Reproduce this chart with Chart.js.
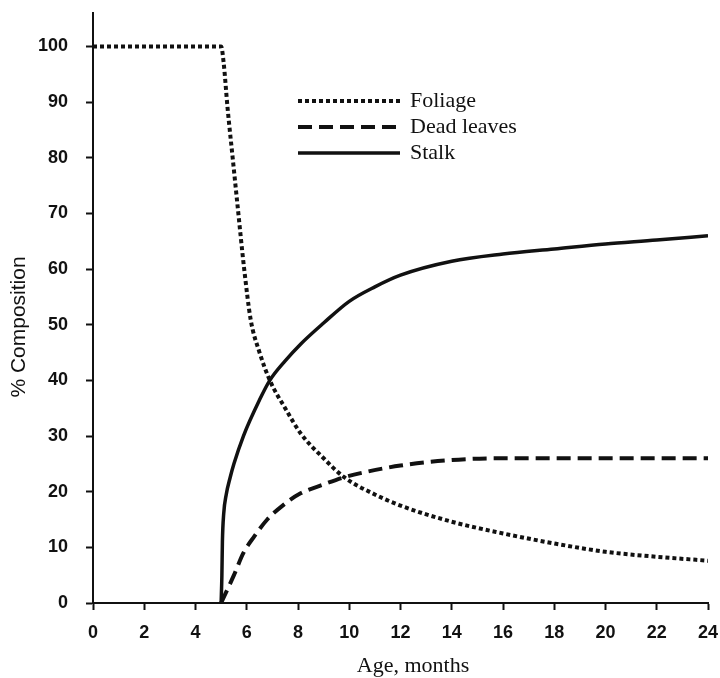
<!DOCTYPE html>
<html>
<head>
<meta charset="utf-8">
<script src="https://cdn.jsdelivr.net/npm/chart.js@4.4.1/dist/chart.umd.min.js"></script>
<style>
  html, body { margin: 0; padding: 0; background: #fff; }
  #wrap { width: 720px; height: 678px; }
</style>
</head>
<body>
<div id="wrap"><canvas id="chart" width="720" height="678"></canvas></div>
<script>
// values (age in months, % composition)
const ageFoliage = [0, 5, 5.1, 5.25, 5.45, 5.65, 5.9, 6.15, 6.5, 6.9, 7.5, 8.1, 9, 9.8, 11, 12, 14, 16, 18, 20, 22, 24];
const pctFoliage = [100, 100, 97, 89, 80, 71, 60, 51, 45, 40, 35, 30.5, 26, 22.6, 19.5, 17.5, 14.6, 12.5, 10.7, 9.2, 8.3, 7.6];

const ageDead = [5, 5.1, 5.5, 5.87, 6.3, 6.8, 7.4, 8.1, 9, 9.8, 10.5, 12, 14, 16, 20, 24];
const pctDead = [0, 1, 5, 9, 12, 15, 17.5, 19.7, 21.3, 22.6, 23.4, 24.7, 25.7, 26, 26, 26];

const ageStalk = [5, 5.03, 5.05, 5.1, 5.2, 5.35, 5.5, 5.87, 6.5, 6.9, 7.5, 8.1, 9, 10, 11, 12, 14, 16, 18, 20, 22, 24];
const pctStalk = [0, 5, 11, 16, 19.5, 22.5, 25, 30, 36.5, 40, 43.5, 46.5, 50.3, 54.2, 56.8, 58.9, 61.4, 62.7, 63.6, 64.5, 65.2, 66];

const seriesNames = ['Foliage', 'Dead leaves', 'Stalk'];
const xTicks = [0, 2, 4, 6, 8, 10, 12, 14, 16, 18, 20, 22, 24];
const yTicks = [0, 10, 20, 30, 40, 50, 60, 70, 80, 90, 100];

const ink = '#111';
const sans = '"Liberation Sans", Arial, sans-serif';
const serif = '"Liberation Serif", "Times New Roman", serif';

function toPoints(xs, ys) {
    return xs.map((x, i) => ({x: x, y: ys[i]}));
}

// legend and axis titles drawn by hand, the built-in legend can't sit inside the plot
const textPlugin = {
    id: 'figureText',
    afterDraw(chart) {
        const ctx = chart.ctx;
        ctx.save();
        ctx.fillStyle = ink;

        ctx.font = '22px ' + serif;
        ctx.textAlign = 'center';
        ctx.textBaseline = 'middle';
        ctx.fillText('Age, months', 413, 666);

        ctx.save();
        ctx.translate(19, 327);
        ctx.rotate(-Math.PI / 2);
        ctx.font = '21px ' + sans;
        ctx.fillText('% Composition', 0, 0);
        ctx.restore();

        const rows = [101, 127, 153];
        chart.data.datasets.forEach((ds, i) => {
            const y = rows[i];
            ctx.beginPath();
            ctx.strokeStyle = ds.borderColor;
            ctx.lineWidth = ds.borderWidth;
            ctx.setLineDash(ds.borderDash || []);
            ctx.moveTo(298, y);
            ctx.lineTo(400, y);
            ctx.stroke();
            ctx.setLineDash([]);
            ctx.textAlign = 'left';
            ctx.font = '22px ' + serif;
            ctx.fillText(ds.label, 410, y);
        });
        ctx.restore();
    }
};

// chart.js pads the axes for the end labels, we want the plot box exact
function noPad(scale) {
    scale.paddingTop = 0;
    scale.paddingBottom = 0;
    scale.paddingLeft = 0;
    scale.paddingRight = 0;
}

const common = {
    borderColor: ink,
    pointRadius: 0,
    fill: false,
    cubicInterpolationMode: 'monotone'
};

new Chart(document.getElementById('chart'), {
    type: 'line',
    data: {
        datasets: [
            {...common, label: seriesNames[0], data: toPoints(ageFoliage, pctFoliage), borderWidth: 4, borderDash: [4, 3]},
            {...common, label: seriesNames[1], data: toPoints(ageDead, pctDead), borderWidth: 4, borderDash: [14, 7]},
            {...common, label: seriesNames[2], data: toPoints(ageStalk, pctStalk), borderWidth: 3.5}
        ]
    },
    options: {
        responsive: false,
        animation: false,
        layout: {padding: {top: 13, right: 12, left: 0, bottom: 0}},
        plugins: {
            legend: {display: false},
            tooltip: {enabled: false}
        },
        scales: {
            x: {
                type: 'linear',
                min: 0,
                max: 24,
                afterBuildTicks: scale => { scale.ticks = xTicks.map(v => ({value: v})); },
                afterFit: scale => { scale.height = 75; noPad(scale); },
                border: {display: true, color: ink, width: 2},
                grid: {drawOnChartArea: false, drawTicks: true, tickLength: 7, tickColor: ink, tickWidth: 2},
                ticks: {color: ink, font: {family: sans, size: 18, weight: 'bold'}, padding: 12, maxRotation: 0}
            },
            y: {
                type: 'linear',
                min: 0,
                max: 106,
                afterBuildTicks: scale => { scale.ticks = yTicks.map(v => ({value: v})); },
                afterFit: scale => { scale.width = 93; noPad(scale); },
                border: {display: true, color: ink, width: 2},
                grid: {drawOnChartArea: false, drawTicks: true, tickLength: 7, tickColor: ink, tickWidth: 2},
                ticks: {color: ink, font: {family: sans, size: 18, weight: 'bold'}, padding: 18}
            }
        }
    },
    plugins: [textPlugin]
});
</script>
</body>
</html>
